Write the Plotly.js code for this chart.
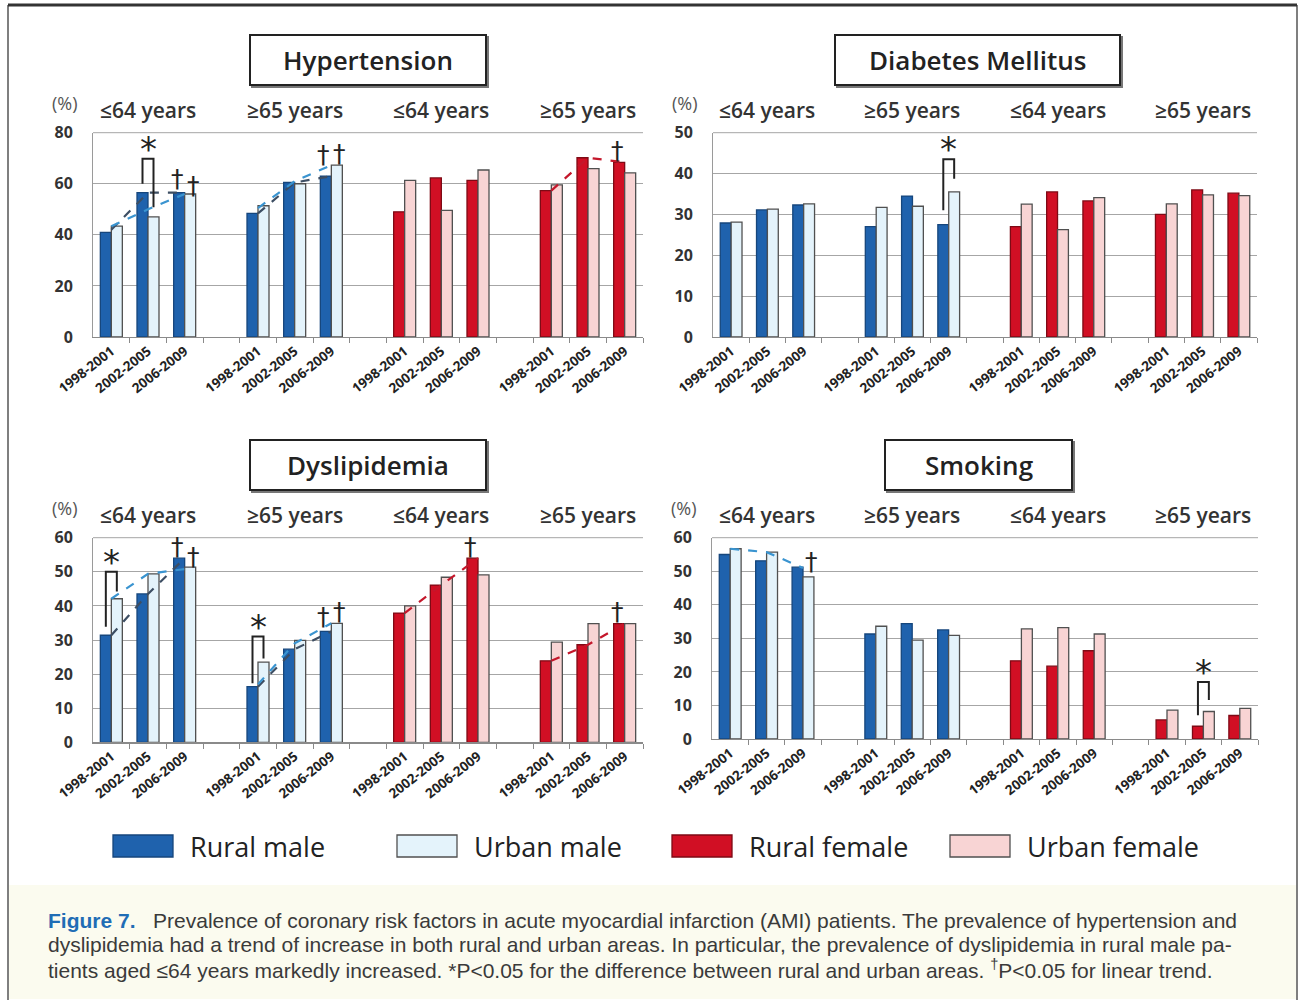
<!DOCTYPE html>
<html><head><meta charset="utf-8">
<script src="https://cdn.plot.ly/plotly-3.0.1.min.js"></script>
<style>html,body{margin:0;padding:0;background:#fff}</style>
</head><body><div id="chart" style="width:1305px;height:1000px"></div>
<script>
// ---------------- DATA ----------------
const periods = ['1998-2001','2002-2005','2006-2009'];
const ageGroups = ['≤64 years','≥65 years','≤64 years','≥65 years'];
const panelTitles = ['Hypertension','Diabetes Mellitus','Dyslipidemia','Smoking'];
const seriesNames = ['Rural male','Urban male','Rural female','Urban female'];
// each array: [≤64: 98-01, 02-05, 06-09, ≥65: 98-01, 02-05, 06-09]
const htRuralMale   = [41.0, 56.5, 56.5, 48.4, 60.5, 63.0];
const htUrbanMale   = [43.4, 47.0, 56.0, 51.4, 60.0, 67.3];
const htRuralFemale = [49.0, 62.3, 61.3, 57.3, 70.2, 68.4];
const htUrbanFemale = [61.3, 49.6, 65.4, 59.6, 65.9, 64.3];
const dmRuralMale   = [27.9, 31.1, 32.3, 27.0, 34.5, 27.5];
const dmUrbanMale   = [28.1, 31.3, 32.6, 31.7, 32.0, 35.5];
const dmRuralFemale = [27.0, 35.5, 33.3, 30.0, 36.0, 35.2];
const dmUrbanFemale = [32.5, 26.3, 34.1, 32.6, 34.8, 34.6];
const dlRuralMale   = [31.4, 43.5, 54.0, 16.3, 27.3, 32.5];
const dlUrbanMale   = [42.1, 49.4, 51.4, 23.5, 29.9, 34.9];
const dlRuralFemale = [37.9, 46.1, 54.0, 23.9, 28.6, 34.8];
const dlUrbanFemale = [40.0, 48.4, 49.1, 29.4, 34.8, 34.8];
const smRuralMale   = [55.0, 53.1, 51.2, 31.3, 34.4, 32.5];
const smUrbanMale   = [56.7, 55.7, 48.3, 33.6, 29.5, 30.9];
const smRuralFemale = [23.3, 21.7, 26.3,  5.7,  3.8,  7.0];
const smUrbanFemale = [32.8, 33.2, 31.3,  8.6,  8.2,  9.1];
const yMax = [80, 50, 60, 60];
const yStep = [20, 10, 10, 10];
// dashed trend lines: panel, series, age group (0-3), values per period
const trendPanel  = [0, 0, 0, 0, 0, 2, 2, 2, 2, 2, 2, 3];
const trendSeries = [0, 1, 0, 1, 2, 0, 1, 0, 1, 2, 2, 1];
const trendGroup  = [0, 0, 1, 1, 3, 0, 0, 1, 1, 2, 3, 0];
const trendValues = [[42.0,56.5,56.5],[43.4,50.0,56.0],[48.4,60.5,63.0],[50.5,61.0,67.3],[57.3,70.2,68.4],
                     [31.4,43.5,54.0],[42.1,49.4,50.8],[16.3,27.3,32.5],[17.0,29.0,34.9],[37.9,46.1,54.0],[23.9,28.6,34.8],
                     [56.7,55.7,51.0]];
// significance brackets (*): panel, group, period, left leg end, right leg end, bracket top
const brPanel  = [0, 1, 2, 2, 3];
const brGroup  = [0, 1, 0, 1, 3];
const brPeriod = [1, 2, 0, 0, 1];
const brLeft   = [60.0, 31.0, 33.9, 17.3, 7.1];
const brRight  = [50.8, 38.7, 44.2, 24.6, 11.6];
const brTop    = [69.8, 43.5, 50.0, 31.0, 17.0];
// linear trend markers (†): panel, group, period, series side (0 rural, 1 urban), level
const dgPanel  = [0, 0, 0, 0, 0, 2, 2, 2, 2, 2, 2, 3];
const dgGroup  = [0, 0, 1, 1, 3, 0, 0, 1, 1, 2, 3, 0];
const dgPeriod = [2, 2, 2, 2, 2, 2, 2, 2, 2, 2, 2, 2];
const dgSide   = [0, 1, 0, 1, 0, 0, 1, 0, 1, 0, 0, 1];
const dgLevel  = [57.5, 55.0, 67.0, 67.5, 68.4, 54.0, 51.0, 33.5, 35.0, 54.0, 35.0, 49.5];

// ---------------- STYLE / LAYOUT ----------------
const W = 1305, H = 1000;
const px = x => x / W, py = y => 1 - y / H;
const fills = ['#1f62ad', '#e4f3fb', '#d10f24', '#f8d4d4'];
const edges = ['#16467c', '#505050', '#7e0a15', '#505050'];
const trendColors = ['#3d4e63', '#3a94d0', '#c4172b'];
const FONT = 'Open Sans, Noto Sans, sans-serif';
const panelBox = [
  {x0: 93, x1: 643, y0: 132.7, y1: 337},
  {x0: 713, x1: 1257, y0: 132.7, y1: 337},
  {x0: 93, x1: 643, y0: 537.7, y1: 742.3},
  {x0: 712, x1: 1258, y0: 537.7, y1: 739}
];
const titleBox = [
  {x0: 250, x1: 486, y0: 35, y1: 85},
  {x0: 835, x1: 1120, y0: 35, y1: 85},
  {x0: 250, x1: 486, y0: 440, y1: 490},
  {x0: 885, x1: 1072, y0: 440, y1: 490}
];
const panelData = [
  [htRuralMale, htUrbanMale, htRuralFemale, htUrbanFemale],
  [dmRuralMale, dmUrbanMale, dmRuralFemale, dmUrbanFemale],
  [dlRuralMale, dlUrbanMale, dlRuralFemale, dlUrbanFemale],
  [smRuralMale, smUrbanMale, smRuralFemale, smUrbanFemale]
];
const BW = 0.3;
const catOf = (g, p) => g * 4 + p;
const maleX = [catOf(0,0), catOf(0,1), catOf(0,2), catOf(1,0), catOf(1,1), catOf(1,2)];
const femaleX = [catOf(2,0), catOf(2,1), catOf(2,2), catOf(3,0), catOf(3,1), catOf(3,2)];
const tickCenters = [], tickText = [];
for (let g = 0; g < 4; g++) for (let p = 0; p < 3; p++) { tickCenters.push(catOf(g,p)); tickText.push(periods[p]); }
const boundaries = []; for (let i = 0; i < 15; i++) boundaries.push(i + 0.5);

const traces = [], shapes = [], annotations = [];
const layout = {
  width: W, height: H, margin: {l:0, r:0, t:0, b:0},
  paper_bgcolor: '#ffffff', plot_bgcolor: 'rgba(0,0,0,0)',
  showlegend: false, font: {family: FONT, color: '#222'},
  shapes, annotations
};

// outer frame and caption background
shapes.push({type:'rect', xref:'paper', yref:'paper', x0:px(9), x1:px(1296), y0:py(999), y1:py(885), line:{width:0}, fillcolor:'#fbfbef', layer:'below'});
shapes.push({type:'line', xref:'paper', yref:'paper', x0:px(8), x1:px(8), y0:py(5), y1:py(1000), line:{color:'#555', width:1.5}});
shapes.push({type:'line', xref:'paper', yref:'paper', x0:px(1297), x1:px(1297), y0:py(5), y1:py(1000), line:{color:'#555', width:1.5}});
shapes.push({type:'line', xref:'paper', yref:'paper', x0:px(8), x1:px(1297), y0:py(5), y1:py(5), line:{color:'#333', width:3}});

for (let k = 0; k < 4; k++) {
  const sfx = k === 0 ? '' : String(k + 1);
  const xa = 'x' + sfx, ya = 'y' + sfx;
  const b = panelBox[k];
  layout['xaxis' + sfx] = {
    domain: [px(b.x0), px(b.x1)], anchor: ya, range: [-0.5, 14.5],
    showline: true, linecolor: '#8a8a8a', linewidth: 1.2, showgrid: false, zeroline: false,
    tickmode: 'array', tickvals: tickCenters, ticktext: tickText, ticks: '',
    tickangle: -38, tickfont: {family: FONT, size: 13.5, color: '#222', weight: 700},
    minor: {tickmode: 'array', tickvals: boundaries, ticks: 'outside', ticklen: 5, tickcolor: '#8a8a8a', tickwidth: 1, showgrid: false},
    fixedrange: true
  };
  layout['yaxis' + sfx] = {
    domain: [py(b.y1), py(b.y0)], anchor: xa, range: [0, yMax[k]], dtick: yStep[k], tick0: 0,
    showline: true, linecolor: '#9a9a9a', linewidth: 1, showgrid: true, gridcolor: '#a6a6a6', gridwidth: 1,
    zeroline: false, ticks: 'outside', ticklen: 16, tickcolor: 'rgba(0,0,0,0)',
    tickfont: {family: FONT, size: 16, color: '#333', weight: 700}, fixedrange: true
  };
  // bars
  const d = panelData[k];
  [0,1,2,3].forEach(s => {
    traces.push({
      type: 'bar', x: s < 2 ? maleX : femaleX, y: d[s], name: seriesNames[s],
      xaxis: xa, yaxis: ya, width: BW, offset: (s % 2 === 0) ? -BW : 0,
      marker: {color: fills[s], line: {color: edges[s], width: 1.3}}, hoverinfo: 'y'
    });
  });
  // top grid line (frame top)
  shapes.push({type:'line', xref: xa + ' domain', yref: ya + ' domain', x0:0, x1:1, y0:1, y1:1, line:{color:'#a6a6a6', width:1}});
  // title box
  const t = titleBox[k];
  shapes.push({type:'rect', xref:'paper', yref:'paper', x0:px(t.x0+2), x1:px(t.x1+2), y0:py(t.y1+2), y1:py(t.y0+2), line:{color:'#777', width:2}, fillcolor:'#777'});
  shapes.push({type:'rect', xref:'paper', yref:'paper', x0:px(t.x0), x1:px(t.x1), y0:py(t.y1), y1:py(t.y0), line:{color:'#222', width:2}, fillcolor:'#ffffff'});
  annotations.push({xref:'paper', yref:'paper', x: px((t.x0+t.x1)/2), y: py((t.y0+t.y1)/2), text: panelTitles[k], showarrow:false,
    font:{family: FONT, size: 26, color:'#222', weight: 600}, xanchor:'center', yanchor:'middle'});
  // (%) label
  annotations.push({xref:'paper', yref:'paper', x: px(b.x0 - 28), y: py(b.y0 - 30), text:'(%)', showarrow:false,
    font:{family: FONT, size: 18, color:'#555'}, xanchor:'center', yanchor:'middle'});
  // age group labels
  for (let g = 0; g < 4; g++) {
    annotations.push({xref: xa, yref:'paper', x: catOf(g,1), y: py(b.y0 - 23), text: ageGroups[g], showarrow:false,
      font:{family: FONT, size: 21, color:'#333', weight: 600}, xanchor:'center', yanchor:'middle'});
  }
}

// trend lines
for (let i = 0; i < trendPanel.length; i++) {
  const k = trendPanel[i], sfx = k === 0 ? '' : String(k + 1);
  traces.push({type:'scatter', mode:'lines', xaxis:'x'+sfx, yaxis:'y'+sfx,
    x: [0,1,2].map(p => catOf(trendGroup[i], p)), y: trendValues[i],
    line:{color: trendColors[trendSeries[i]], width: 2.2, dash: 'dash'}, hoverinfo:'skip'});
}
// significance brackets
for (let i = 0; i < brPanel.length; i++) {
  const k = brPanel[i], sfx = k === 0 ? '' : String(k + 1);
  const c = catOf(brGroup[i], brPeriod[i]);
  const xl = c - BW/2, xr = c + BW/2;
  traces.push({type:'scatter', mode:'lines', xaxis:'x'+sfx, yaxis:'y'+sfx,
    x:[xl, xl, xr, xr], y:[brLeft[i], brTop[i], brTop[i], brRight[i]],
    line:{color:'#222', width: 2}, hoverinfo:'skip'});
  annotations.push({xref:'x'+sfx, yref:'y'+sfx, x: c, y: brTop[i], text:'*', showarrow:false,
    font:{family:'DejaVu Sans', size: 34, color:'#222'}, xanchor:'center', yanchor:'bottom', yshift: -12});
}
// daggers
for (let i = 0; i < dgPanel.length; i++) {
  const k = dgPanel[i], sfx = k === 0 ? '' : String(k + 1);
  const c = catOf(dgGroup[i], dgPeriod[i]) + (dgSide[i] === 0 ? -BW/2 : BW/2);
  annotations.push({xref:'x'+sfx, yref:'y'+sfx, x: c, y: dgLevel[i], text:'†', showarrow:false,
    font:{family:'DejaVu Sans', size: 25, color:'#222'}, xanchor:'center', yanchor:'bottom', yshift: -4,
    xshift: dgSide[i] === 0 ? -2 : 3, borderpad: 0});
}

// legend (manual, large swatches)
const legSw = [113, 397, 672, 950];
legSw.forEach((x, s) => {
  shapes.push({type:'rect', xref:'paper', yref:'paper', x0:px(x), x1:px(x+60), y0:py(857), y1:py(835),
    line:{color: edges[s], width: 1.3}, fillcolor: fills[s]});
  annotations.push({xref:'paper', yref:'paper', x: px(x + 75), y: py(846), text: seriesNames[s], showarrow:false,
    font:{family: FONT, size: 27, color:'#222', weight: 500}, xanchor:'left', yanchor:'middle'});
});

// caption
const capFont = {family:'Liberation Sans, Arial, sans-serif', size: 21, color:'#3a3a3a'};
const capLines = [
  '<b><span style="color:#1f6db5">Figure 7.</span></b>   Prevalence of coronary risk factors in acute myocardial infarction (AMI) patients. The prevalence of hypertension and',
  'dyslipidemia had a trend of increase in both rural and urban areas. In particular, the prevalence of dyslipidemia in rural male pa-',
  'tients aged ≤64 years markedly increased. *P&lt;0.05 for the difference between rural and urban areas. <sup>†</sup>P&lt;0.05 for linear trend.'
];
capLines.forEach((t, i) => {
  annotations.push({xref:'paper', yref:'paper', x: px(46), y: py(920 + i * 24.5), text: t, showarrow:false,
    font: capFont, xanchor:'left', yanchor:'middle', align:'left'});
});

Plotly.newPlot('chart', traces, layout, {displayModeBar:false, staticPlot:true});
</script>
</body></html>
